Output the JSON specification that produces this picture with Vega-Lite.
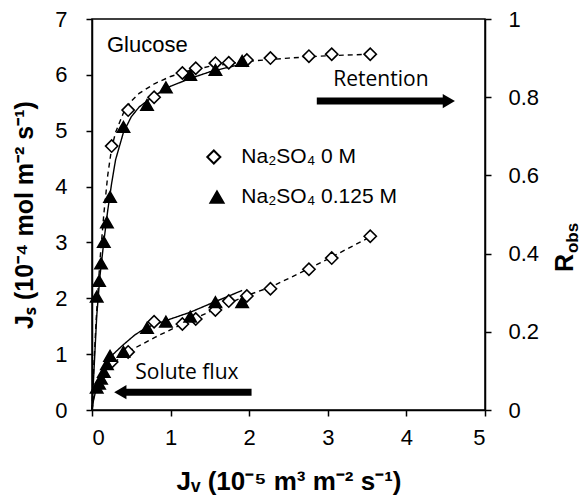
{
  "$schema": "https://vega.github.io/schema/vega-lite/v6.json",
  "autosize": {"type": "none"},
  "width": 393,
  "height": 391,
  "padding": {"left": 92, "top": 19, "right": 102, "bottom": 92},
  "background": "white",
  "config": {
    "font": "Liberation Sans",
    "view": {"stroke": "black", "strokeWidth": 1.5},
    "axis": {"grid": false, "domainColor": "black", "domainWidth": 1.5, "tickColor": "black", "tickWidth": 1.5, "tickSize": 6, "labelColor": "black", "labelFontSize": 22, "labelFont": "Liberation Sans", "titleColor": "black", "titleFont": "Liberation Sans", "titleFontSize": 25, "titleFontWeight": "bold"}
  },
  "datasets": {
    "pts": [
      {"jv": 0.25, "v": 0.86, "kind": "flux", "series": "Na₂SO₄ 0 M"},
      {"jv": 0.46, "v": 1.04, "kind": "flux", "series": "Na₂SO₄ 0 M"},
      {"jv": 0.79, "v": 1.58, "kind": "flux", "series": "Na₂SO₄ 0 M"},
      {"jv": 1.15, "v": 1.54, "kind": "flux", "series": "Na₂SO₄ 0 M"},
      {"jv": 1.32, "v": 1.63, "kind": "flux", "series": "Na₂SO₄ 0 M"},
      {"jv": 1.57, "v": 1.79, "kind": "flux", "series": "Na₂SO₄ 0 M"},
      {"jv": 1.74, "v": 1.95, "kind": "flux", "series": "Na₂SO₄ 0 M"},
      {"jv": 1.97, "v": 2.04, "kind": "flux", "series": "Na₂SO₄ 0 M"},
      {"jv": 2.27, "v": 2.17, "kind": "flux", "series": "Na₂SO₄ 0 M"},
      {"jv": 2.76, "v": 2.52, "kind": "flux", "series": "Na₂SO₄ 0 M"},
      {"jv": 3.05, "v": 2.72, "kind": "flux", "series": "Na₂SO₄ 0 M"},
      {"jv": 3.54, "v": 3.11, "kind": "flux", "series": "Na₂SO₄ 0 M"},
      {"jv": 0.06, "v": 0.40, "kind": "flux", "series": "Na₂SO₄ 0.125 M"},
      {"jv": 0.09, "v": 0.47, "kind": "flux", "series": "Na₂SO₄ 0.125 M"},
      {"jv": 0.115, "v": 0.56, "kind": "flux", "series": "Na₂SO₄ 0.125 M"},
      {"jv": 0.15, "v": 0.68, "kind": "flux", "series": "Na₂SO₄ 0.125 M"},
      {"jv": 0.19, "v": 0.82, "kind": "flux", "series": "Na₂SO₄ 0.125 M"},
      {"jv": 0.23, "v": 0.97, "kind": "flux", "series": "Na₂SO₄ 0.125 M"},
      {"jv": 0.40, "v": 1.04, "kind": "flux", "series": "Na₂SO₄ 0.125 M"},
      {"jv": 0.70, "v": 1.47, "kind": "flux", "series": "Na₂SO₄ 0.125 M"},
      {"jv": 0.94, "v": 1.58, "kind": "flux", "series": "Na₂SO₄ 0.125 M"},
      {"jv": 1.25, "v": 1.67, "kind": "flux", "series": "Na₂SO₄ 0.125 M"},
      {"jv": 1.57, "v": 1.93, "kind": "flux", "series": "Na₂SO₄ 0.125 M"},
      {"jv": 1.91, "v": 1.93, "kind": "flux", "series": "Na₂SO₄ 0.125 M"},
      {"jv": 0.25, "v": 0.675, "kind": "ret", "series": "Na₂SO₄ 0 M"},
      {"jv": 0.46, "v": 0.767, "kind": "ret", "series": "Na₂SO₄ 0 M"},
      {"jv": 0.79, "v": 0.80, "kind": "ret", "series": "Na₂SO₄ 0 M"},
      {"jv": 1.15, "v": 0.862, "kind": "ret", "series": "Na₂SO₄ 0 M"},
      {"jv": 1.32, "v": 0.874, "kind": "ret", "series": "Na₂SO₄ 0 M"},
      {"jv": 1.57, "v": 0.887, "kind": "ret", "series": "Na₂SO₄ 0 M"},
      {"jv": 1.74, "v": 0.888, "kind": "ret", "series": "Na₂SO₄ 0 M"},
      {"jv": 1.97, "v": 0.895, "kind": "ret", "series": "Na₂SO₄ 0 M"},
      {"jv": 2.27, "v": 0.90, "kind": "ret", "series": "Na₂SO₄ 0 M"},
      {"jv": 2.76, "v": 0.905, "kind": "ret", "series": "Na₂SO₄ 0 M"},
      {"jv": 3.05, "v": 0.91, "kind": "ret", "series": "Na₂SO₄ 0 M"},
      {"jv": 3.54, "v": 0.91, "kind": "ret", "series": "Na₂SO₄ 0 M"},
      {"jv": 0.06, "v": 0.29, "kind": "ret", "series": "Na₂SO₄ 0.125 M"},
      {"jv": 0.09, "v": 0.33, "kind": "ret", "series": "Na₂SO₄ 0.125 M"},
      {"jv": 0.115, "v": 0.375, "kind": "ret", "series": "Na₂SO₄ 0.125 M"},
      {"jv": 0.15, "v": 0.43, "kind": "ret", "series": "Na₂SO₄ 0.125 M"},
      {"jv": 0.19, "v": 0.48, "kind": "ret", "series": "Na₂SO₄ 0.125 M"},
      {"jv": 0.23, "v": 0.545, "kind": "ret", "series": "Na₂SO₄ 0.125 M"},
      {"jv": 0.40, "v": 0.724, "kind": "ret", "series": "Na₂SO₄ 0.125 M"},
      {"jv": 0.70, "v": 0.78, "kind": "ret", "series": "Na₂SO₄ 0.125 M"},
      {"jv": 0.94, "v": 0.825, "kind": "ret", "series": "Na₂SO₄ 0.125 M"},
      {"jv": 1.25, "v": 0.857, "kind": "ret", "series": "Na₂SO₄ 0.125 M"},
      {"jv": 1.57, "v": 0.87, "kind": "ret", "series": "Na₂SO₄ 0.125 M"},
      {"jv": 1.91, "v": 0.893, "kind": "ret", "series": "Na₂SO₄ 0.125 M"}
    ],
    "fit": [
      {"jv": 0, "v": 0, "kind": "flux", "series": "Na₂SO₄ 0 M"},
      {"jv": 0.02, "v": 0.2, "kind": "flux", "series": "Na₂SO₄ 0 M"},
      {"jv": 0.05, "v": 0.38, "kind": "flux", "series": "Na₂SO₄ 0 M"},
      {"jv": 0.1, "v": 0.55, "kind": "flux", "series": "Na₂SO₄ 0 M"},
      {"jv": 0.2, "v": 0.74, "kind": "flux", "series": "Na₂SO₄ 0 M"},
      {"jv": 0.3, "v": 0.87, "kind": "flux", "series": "Na₂SO₄ 0 M"},
      {"jv": 0.48, "v": 1.06, "kind": "flux", "series": "Na₂SO₄ 0 M"},
      {"jv": 0.8, "v": 1.3, "kind": "flux", "series": "Na₂SO₄ 0 M"},
      {"jv": 1.12, "v": 1.52, "kind": "flux", "series": "Na₂SO₄ 0 M"},
      {"jv": 1.5, "v": 1.76, "kind": "flux", "series": "Na₂SO₄ 0 M"},
      {"jv": 1.97, "v": 2.05, "kind": "flux", "series": "Na₂SO₄ 0 M"},
      {"jv": 2.27, "v": 2.2, "kind": "flux", "series": "Na₂SO₄ 0 M"},
      {"jv": 2.76, "v": 2.53, "kind": "flux", "series": "Na₂SO₄ 0 M"},
      {"jv": 3.05, "v": 2.74, "kind": "flux", "series": "Na₂SO₄ 0 M"},
      {"jv": 3.54, "v": 3.1, "kind": "flux", "series": "Na₂SO₄ 0 M"},
      {"jv": 0, "v": 0, "kind": "flux", "series": "Na₂SO₄ 0.125 M"},
      {"jv": 0.02, "v": 0.18, "kind": "flux", "series": "Na₂SO₄ 0.125 M"},
      {"jv": 0.05, "v": 0.36, "kind": "flux", "series": "Na₂SO₄ 0.125 M"},
      {"jv": 0.1, "v": 0.58, "kind": "flux", "series": "Na₂SO₄ 0.125 M"},
      {"jv": 0.15, "v": 0.74, "kind": "flux", "series": "Na₂SO₄ 0.125 M"},
      {"jv": 0.2, "v": 0.87, "kind": "flux", "series": "Na₂SO₄ 0.125 M"},
      {"jv": 0.27, "v": 1.0, "kind": "flux", "series": "Na₂SO₄ 0.125 M"},
      {"jv": 0.4, "v": 1.17, "kind": "flux", "series": "Na₂SO₄ 0.125 M"},
      {"jv": 0.55, "v": 1.35, "kind": "flux", "series": "Na₂SO₄ 0.125 M"},
      {"jv": 0.7, "v": 1.48, "kind": "flux", "series": "Na₂SO₄ 0.125 M"},
      {"jv": 1.0, "v": 1.63, "kind": "flux", "series": "Na₂SO₄ 0.125 M"},
      {"jv": 1.25, "v": 1.75, "kind": "flux", "series": "Na₂SO₄ 0.125 M"},
      {"jv": 1.5, "v": 1.9, "kind": "flux", "series": "Na₂SO₄ 0.125 M"},
      {"jv": 1.91, "v": 2.14, "kind": "flux", "series": "Na₂SO₄ 0.125 M"},
      {"jv": 0, "v": 0, "kind": "ret", "series": "Na₂SO₄ 0 M"},
      {"jv": 0.02, "v": 0.1, "kind": "ret", "series": "Na₂SO₄ 0 M"},
      {"jv": 0.05, "v": 0.22, "kind": "ret", "series": "Na₂SO₄ 0 M"},
      {"jv": 0.1, "v": 0.38, "kind": "ret", "series": "Na₂SO₄ 0 M"},
      {"jv": 0.15, "v": 0.5, "kind": "ret", "series": "Na₂SO₄ 0 M"},
      {"jv": 0.2, "v": 0.6, "kind": "ret", "series": "Na₂SO₄ 0 M"},
      {"jv": 0.25, "v": 0.67, "kind": "ret", "series": "Na₂SO₄ 0 M"},
      {"jv": 0.3, "v": 0.71, "kind": "ret", "series": "Na₂SO₄ 0 M"},
      {"jv": 0.4, "v": 0.76, "kind": "ret", "series": "Na₂SO₄ 0 M"},
      {"jv": 0.5, "v": 0.79, "kind": "ret", "series": "Na₂SO₄ 0 M"},
      {"jv": 0.6, "v": 0.81, "kind": "ret", "series": "Na₂SO₄ 0 M"},
      {"jv": 0.8, "v": 0.835, "kind": "ret", "series": "Na₂SO₄ 0 M"},
      {"jv": 1.0, "v": 0.853, "kind": "ret", "series": "Na₂SO₄ 0 M"},
      {"jv": 1.2, "v": 0.866, "kind": "ret", "series": "Na₂SO₄ 0 M"},
      {"jv": 1.5, "v": 0.879, "kind": "ret", "series": "Na₂SO₄ 0 M"},
      {"jv": 2.0, "v": 0.892, "kind": "ret", "series": "Na₂SO₄ 0 M"},
      {"jv": 2.5, "v": 0.9, "kind": "ret", "series": "Na₂SO₄ 0 M"},
      {"jv": 3.0, "v": 0.906, "kind": "ret", "series": "Na₂SO₄ 0 M"},
      {"jv": 3.54, "v": 0.91, "kind": "ret", "series": "Na₂SO₄ 0 M"},
      {"jv": 0, "v": 0, "kind": "ret", "series": "Na₂SO₄ 0.125 M"},
      {"jv": 0.03, "v": 0.12, "kind": "ret", "series": "Na₂SO₄ 0.125 M"},
      {"jv": 0.06, "v": 0.24, "kind": "ret", "series": "Na₂SO₄ 0.125 M"},
      {"jv": 0.1, "v": 0.34, "kind": "ret", "series": "Na₂SO₄ 0.125 M"},
      {"jv": 0.15, "v": 0.43, "kind": "ret", "series": "Na₂SO₄ 0.125 M"},
      {"jv": 0.2, "v": 0.51, "kind": "ret", "series": "Na₂SO₄ 0.125 M"},
      {"jv": 0.25, "v": 0.58, "kind": "ret", "series": "Na₂SO₄ 0.125 M"},
      {"jv": 0.3, "v": 0.64, "kind": "ret", "series": "Na₂SO₄ 0.125 M"},
      {"jv": 0.4, "v": 0.71, "kind": "ret", "series": "Na₂SO₄ 0.125 M"},
      {"jv": 0.5, "v": 0.75, "kind": "ret", "series": "Na₂SO₄ 0.125 M"},
      {"jv": 0.6, "v": 0.775, "kind": "ret", "series": "Na₂SO₄ 0.125 M"},
      {"jv": 0.8, "v": 0.805, "kind": "ret", "series": "Na₂SO₄ 0.125 M"},
      {"jv": 1.0, "v": 0.828, "kind": "ret", "series": "Na₂SO₄ 0.125 M"},
      {"jv": 1.25, "v": 0.848, "kind": "ret", "series": "Na₂SO₄ 0.125 M"},
      {"jv": 1.5, "v": 0.865, "kind": "ret", "series": "Na₂SO₄ 0.125 M"},
      {"jv": 1.91, "v": 0.885, "kind": "ret", "series": "Na₂SO₄ 0.125 M"}
    ],
    "key": [
      {"x": 1.55, "tx": 1.9, "y": 4.53, "series": "Na₂SO₄ 0 M"},
      {"x": 1.59, "tx": 1.9, "y": 3.81, "series": "Na₂SO₄ 0.125 M"}
    ],
    "glucose": [{"x": 0.19, "y": 6.53, "label": "Glucose"}],
    "notes": [
      {"x": 3.07, "y": 5.91, "label": "Retention"},
      {"x": 0.55, "y": 0.66, "label": "Solute flux"}
    ],
    "shafts": [
      {"x": 2.86, "x2": 4.5, "y": 5.53},
      {"x": 0.41, "x2": 2.03, "y": 0.32}
    ],
    "headR": [{"x": 4.54, "y": 5.53}],
    "headL": [{"x": 0.36, "y": 0.32}],
    "rMain": [{"x": 6.12, "y": 0.376, "label": "R"}],
    "rSub": [{"x": 6.18, "y": 0.44, "label": "obs"}]
  },
  "encoding": {
    "x": {"field": "jv", "type": "quantitative", "scale": {"domain": [0, 5], "nice": false}, "axis": {"title": "Jᵥ (10⁻⁵ m³ m⁻² s⁻¹)", "values": [0, 1, 2, 3, 4, 5], "labelPadding": 11, "titlePadding": 20, "titleFontSize": 26}}
  },
  "layer": [
    {
      "layer": [
        {
          "data": {"name": "fit"},
          "transform": [{"filter": "datum.kind === 'flux'"}],
          "mark": {"type": "line", "color": "black", "strokeWidth": 1.4},
          "encoding": {
            "y": {"field": "v", "type": "quantitative", "scale": {"domain": [0, 7], "nice": false}, "axis": {"title": "Jₛ (10⁻⁴ mol m⁻² s⁻¹)", "values": [0, 1, 2, 3, 4, 5, 6, 7], "format": "d", "orient": "left", "labelPadding": 19, "titlePadding": 17}},
            "detail": {"field": "series"},
            "strokeDash": {"field": "series", "type": "nominal", "scale": {"domain": ["Na₂SO₄ 0 M", "Na₂SO₄ 0.125 M"], "range": [[5, 4], [1, 0]]}, "legend": null}
          }
        },
        {
          "data": {"name": "pts"},
          "transform": [{"filter": "datum.kind === 'flux'"}],
          "mark": {"type": "point", "filled": true, "stroke": "black", "strokeWidth": 1.6, "opacity": 1},
          "encoding": {
            "y": {"field": "v", "type": "quantitative"},
            "shape": {"field": "series", "type": "nominal", "scale": {"domain": ["Na₂SO₄ 0 M", "Na₂SO₄ 0.125 M"], "range": ["diamond", "triangle-up"]}, "legend": null},
            "fill": {"field": "series", "type": "nominal", "scale": {"domain": ["Na₂SO₄ 0 M", "Na₂SO₄ 0.125 M"], "range": ["white", "black"]}, "legend": null},
            "size": {"value": 150}
          }
        },
        {
          "data": {"name": "key"},
          "mark": {"type": "point", "filled": true, "stroke": "black", "strokeWidth": 2, "opacity": 1},
          "encoding": {
            "x": {"field": "x", "type": "quantitative"},
            "y": {"field": "y", "type": "quantitative"},
            "shape": {"field": "series", "type": "nominal", "legend": null},
            "fill": {"field": "series", "type": "nominal", "legend": null},
            "size": {"value": 170}
          }
        },
        {
          "data": {"name": "key"},
          "mark": {"type": "text", "align": "left", "baseline": "middle", "color": "black", "font": "Liberation Sans", "fontSize": 21},
          "encoding": {
            "x": {"field": "tx", "type": "quantitative"},
            "y": {"field": "y", "type": "quantitative"},
            "text": {"field": "series"}
          }
        },
        {
          "data": {"name": "glucose"},
          "mark": {"type": "text", "align": "left", "baseline": "middle", "color": "black", "font": "Liberation Sans", "fontSize": 22},
          "encoding": {
            "x": {"field": "x", "type": "quantitative"},
            "y": {"field": "y", "type": "quantitative"},
            "text": {"field": "label"}
          }
        },
        {
          "data": {"name": "notes"},
          "mark": {"type": "text", "align": "left", "baseline": "middle", "color": "black", "font": "Open Sans", "fontSize": 21},
          "encoding": {
            "x": {"field": "x", "type": "quantitative"},
            "y": {"field": "y", "type": "quantitative"},
            "text": {"field": "label"}
          }
        },
        {
          "data": {"name": "shafts"},
          "mark": {"type": "rule", "color": "black", "strokeWidth": 7},
          "encoding": {
            "x": {"field": "x", "type": "quantitative"},
            "x2": {"field": "x2"},
            "y": {"field": "y", "type": "quantitative"}
          }
        },
        {
          "data": {"name": "headR"},
          "mark": {"type": "point", "filled": true, "color": "black", "opacity": 1, "size": 200, "shape": "triangle-right"},
          "encoding": {
            "x": {"field": "x", "type": "quantitative"},
            "y": {"field": "y", "type": "quantitative"}
          }
        },
        {
          "data": {"name": "headL"},
          "mark": {"type": "point", "filled": true, "color": "black", "opacity": 1, "size": 200, "shape": "triangle-left"},
          "encoding": {
            "x": {"field": "x", "type": "quantitative"},
            "y": {"field": "y", "type": "quantitative"}
          }
        }
      ]
    },
    {
      "layer": [
        {
          "data": {"name": "fit"},
          "transform": [{"filter": "datum.kind === 'ret'"}],
          "mark": {"type": "line", "color": "black", "strokeWidth": 1.4},
          "encoding": {
            "y": {"field": "v", "type": "quantitative", "scale": {"domain": [0, 1], "nice": false}, "axis": {"title": null, "orient": "right", "values": [0, 0.2, 0.4, 0.6, 0.8, 1], "format": "~g", "labelPadding": 17}},
            "detail": {"field": "series"},
            "strokeDash": {"field": "series", "type": "nominal", "legend": null}
          }
        },
        {
          "data": {"name": "pts"},
          "transform": [{"filter": "datum.kind === 'ret'"}],
          "mark": {"type": "point", "filled": true, "stroke": "black", "strokeWidth": 1.6, "opacity": 1},
          "encoding": {
            "y": {"field": "v", "type": "quantitative"},
            "shape": {"field": "series", "type": "nominal", "legend": null},
            "fill": {"field": "series", "type": "nominal", "legend": null},
            "size": {"value": 150}
          }
        },
        {
          "data": {"name": "rMain"},
          "mark": {"type": "text", "angle": 270, "align": "center", "baseline": "alphabetic", "fontWeight": "bold", "color": "black", "fontSize": 25},
          "encoding": {
            "x": {"field": "x", "type": "quantitative"},
            "y": {"field": "y", "type": "quantitative"},
            "text": {"field": "label"}
          }
        },
        {
          "data": {"name": "rSub"},
          "mark": {"type": "text", "angle": 270, "align": "center", "baseline": "alphabetic", "fontWeight": "bold", "color": "black", "fontSize": 17},
          "encoding": {
            "x": {"field": "x", "type": "quantitative"},
            "y": {"field": "y", "type": "quantitative"},
            "text": {"field": "label"}
          }
        }
      ]
    }
  ],
  "resolve": {"scale": {"y": "independent", "shape": "shared", "fill": "shared"}}
}
